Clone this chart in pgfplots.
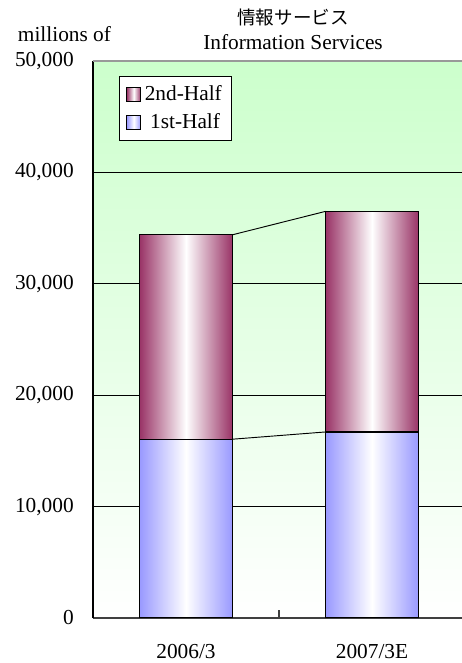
\documentclass[border=0pt]{standalone}
\usepackage{fontspec}
\setmainfont{Liberation Serif}
\newfontfamily\cjk{Noto Sans CJK JP}
\usepackage{pgfplots}
\pgfplotsset{compat=1.18}
\definecolor{plum}{HTML}{993366}
\definecolor{peri}{HTML}{9999FF}
\definecolor{mint}{HTML}{CCFFCC}
\pgfplotsset{
  base/.style={scale only axis, width=279pt, height=417.75pt,
    xmin=-0.5, xmax=1.5, ymin=0, ymax=50000},
  sq legend/.style={legend image code/.code={\draw[##1,line width=1pt] (0pt,-5.25pt) rectangle (10.5pt,5.25pt);}},
  first/.style={draw=black, line width=0.9pt, left color=peri, right color=peri, middle color=white, sq legend},
  second/.style={draw=black, line width=0.9pt, left color=plum, right color=plum, middle color=white, sq legend},
}
\begin{document}
\fontsize{16}{19}\selectfont
\begin{tikzpicture}
\useasboundingbox (-69.75pt,-33.75pt) rectangle (276pt,463.5pt);
% category 2006/3, with the frame, grid and legend
\begin{axis}[
  base,
  ybar stacked, bar width=0.5,
  axis lines*=left,
  x axis line style={draw=black!75, line width=0.8pt},
  y axis line style={draw=black, line width=0.8pt},
  axis background/.style={shade, top color=mint, bottom color=white},
  major tick length=0pt,
  xtick={0,1}, xticklabels={2006/3,2007/3E},
  ytick={0,10000,...,50000},
  ymajorgrids, grid style={black, line width=0.6pt},
  scaled y ticks=false,
  /pgf/number format/.cd, fixed, 1000 sep={,}, assume math mode=true, /pgfplots/.cd,
  yticklabel style={anchor=east, inner sep=0pt, xshift=-14.25pt},
  xticklabel style={anchor=north, inner sep=0pt, yshift=-19.5pt},
  reverse legend,
  legend cell align=left,
  legend style={at={(0.07,0.973)}, anchor=north west, draw=black, line width=0.6pt,
    fill=white, inner xsep=5pt, inner ysep=4pt, row sep=2.5pt,
    nodes={inner sep=2.5pt}},
]
\addplot[first] coordinates {(0,16050)};
\addlegendentry{\hspace{4pt}1st-Half}
\addplot[second] coordinates {(0,18350)};
\addlegendentry{2nd-Half}
\draw[black!40, line width=0.9pt] (rel axis cs:0,1) -- (rel axis cs:1,1);
\draw[black!75, line width=0.8pt] (axis cs:0.5,0) -- ([yshift=6pt]axis cs:0.5,0);
\end{axis}
% category 2007/3E
\begin{axis}[base, hide axis, ybar stacked, bar width=0.5]
\addplot[first] coordinates {(1,16700)};
\addplot[second] coordinates {(1,19800)};
\end{axis}
% series lines between the stacks
\begin{axis}[base, hide axis]
\addplot[black, line width=0.7pt] coordinates {(0.25,16050) (0.75,16700)};
\addplot[black, line width=0.7pt] coordinates {(0.25,34400) (0.75,36500)};
\end{axis}
\node[anchor=base] at (-21.4pt,432pt) {millions of};
\node[anchor=base] at (150pt,426.5pt) {Information Services};
\node at (150pt,450.75pt) {\cjk\fontsize{13.9}{16}\selectfont 情報サービス};
\end{tikzpicture}
\end{document}
